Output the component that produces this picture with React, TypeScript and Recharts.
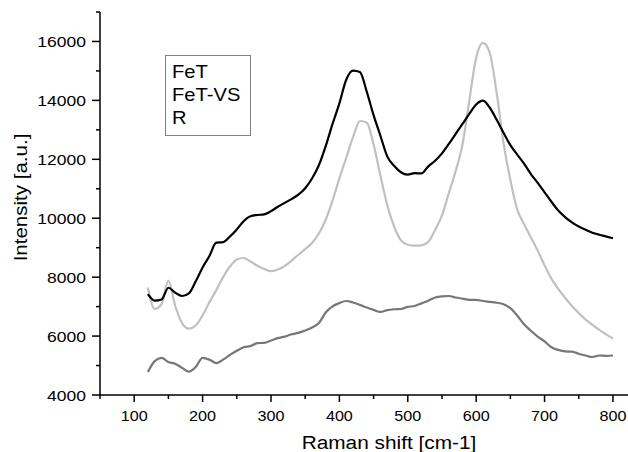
import React from 'react';
import { LineChart, Line, XAxis, YAxis, Legend } from 'recharts';

// Raman shift [cm-1]
const shift = [
  120, 130, 140, 150, 160, 170, 180, 190, 200, 210,
  220, 230, 240, 250, 260, 270, 280, 290, 300, 310,
  320, 330, 340, 350, 360, 370, 380, 390, 400, 410,
  420, 430, 440, 450, 460, 470, 480, 490, 500, 510,
  520, 530, 540, 550, 560, 570, 580, 590, 600, 610,
  620, 630, 640, 650, 660, 670, 680, 690, 700, 710,
  720, 730, 740, 750, 760, 770, 780, 790, 800
];

const fet = [
  7420, 7200, 7240, 7640, 7470, 7360, 7450, 7860, 8330, 8720,
  9170, 9190, 9380, 9620, 9900, 10070, 10110, 10130, 10240, 10390,
  10520, 10650, 10800, 11020, 11350, 11800, 12450, 13200, 13900, 14700,
  15010, 14960, 14300, 13500, 12800, 12100, 11780, 11560, 11480, 11530,
  11520, 11760, 11950, 12200, 12520, 12860, 13200, 13540, 13860, 13990,
  13750, 13340, 12900, 12480, 12160, 11850, 11500, 11200, 10880, 10560,
  10260, 10040, 9860, 9720, 9610, 9510, 9440, 9380, 9320
];

const fetVs = [
  7650, 6920, 7080, 7880, 7020, 6440, 6250, 6360, 6700, 7150,
  7560, 8000, 8360, 8600, 8650, 8530, 8390, 8280, 8200, 8260,
  8380, 8560, 8760, 8950, 9160, 9480, 9950, 10600, 11350, 12050,
  12750, 13300, 13250, 12500, 11450, 10450, 9720, 9250, 9100, 9070,
  9080, 9200, 9600, 10100, 10850, 11600, 12500, 14000, 15450, 15950,
  15600, 14250, 12550, 11300, 10300, 9800, 9350, 8900, 8400, 7950,
  7600, 7300, 7020, 6780, 6560, 6380, 6210, 6060, 5920
];

const rRef = [
  4780, 5150, 5260, 5120, 5060, 4920, 4790, 4950, 5260, 5200,
  5080, 5200, 5360, 5500, 5620, 5660, 5760, 5770, 5850, 5930,
  5980, 6060, 6110, 6190, 6290, 6440, 6800, 7010, 7120, 7190,
  7140, 7060, 6970, 6890, 6820, 6880, 6910, 6920, 6990, 7020,
  7110, 7200, 7310, 7350, 7360, 7310, 7270, 7230, 7230, 7190,
  7160, 7130, 7080, 6950, 6700, 6400, 6180, 5980, 5820, 5620,
  5530, 5480, 5470, 5400, 5340, 5290, 5340, 5330, 5340
];

const xTicks = [50, 100, 150, 200, 250, 300, 350, 400, 450, 500, 550, 600, 650, 700, 750, 800];
const yTicks = [4000, 5000, 6000, 7000, 8000, 9000, 10000, 11000, 12000, 13000, 14000, 15000, 16000, 17000];
const seriesNames = ['FeT', 'FeT-VS', 'R'];

const data = shift.map((s, i) => ({ shift: s, fet: fet[i], fetVs: fetVs[i], r: rRef[i] }));

const FONT = '"Liberation Sans", Arial, sans-serif';

const StretchText = ({ x, y, size, sx, anchor, angle, children }: any) => (
  <text
    transform={`translate(${x},${y}) rotate(${angle || 0}) scale(${sx},1)`}
    fontSize={size}
    fontFamily={FONT}
    textAnchor={anchor}
    fill="#000"
  >
    {children}
  </text>
);

const YTick = (props: any) => {
  const { x, y, payload } = props;
  const major = payload.value % 2000 === 0;
  return (
    <g>
      <line x1={x} x2={x - (major ? 8 : 4)} y1={y} y2={y} stroke="#000" strokeWidth={1.5} />
      {major && (
        <StretchText x={x - 14} y={y + 5.5} size={15.5} sx={1.13} anchor="end">
          {payload.value}
        </StretchText>
      )}
    </g>
  );
};

const XTick = (props: any) => {
  const { x, y, payload } = props;
  const major = payload.value % 100 === 0;
  return (
    <g>
      <line x1={x} x2={x} y1={y} y2={y + (major ? 7 : 4)} stroke="#000" strokeWidth={1.5} />
      {major && (
        <StretchText x={x} y={y + 26} size={15.4} sx={1.05} anchor="middle">
          {payload.value}
        </StretchText>
      )}
    </g>
  );
};

const LegendBox = () => (
  <svg width={87} height={82} style={{ display: 'block' }}>
    <rect x={0.5} y={0.5} width={85} height={80} fill="#fff" stroke="#808080" strokeWidth={1} />
    {seriesNames.map((name, i) => (
      <StretchText key={name} x={7} y={23 + i * 23} size={18} sx={1.12} anchor="start">
        {name}
      </StretchText>
    ))}
  </svg>
);

export default function App() {
  return (
    <div style={{ position: 'absolute', left: 0, top: 0, width: 628, height: 452, background: '#fff' }}>
      <LineChart width={628} height={452} data={data} margin={{ top: 12, right: 0, bottom: 0, left: 0 }}>
        <XAxis
          dataKey="shift"
          type="number"
          domain={[50, 822]}
          ticks={xTicks}
          interval={0}
          allowDataOverflow
          height={57}
          tickLine={false}
          tickSize={0}
          tickMargin={0}
          axisLine={{ stroke: '#000', strokeWidth: 1.5 }}
          tick={<XTick />}
          label={(p: any) => {
            const vb = p.viewBox;
            return (
              <StretchText x={vb.x + vb.width / 2 + 25} y={vb.y + 54} size={18.6} sx={1.12} anchor="middle">
                Raman shift [cm-1]
              </StretchText>
            );
          }}
        />
        <YAxis
          type="number"
          domain={[4000, 17000]}
          ticks={yTicks}
          interval={0}
          allowDataOverflow
          width={100}
          tickLine={false}
          tickSize={0}
          tickMargin={0}
          axisLine={{ stroke: '#000', strokeWidth: 1.5 }}
          tick={<YTick />}
          label={(p: any) => {
            const vb = p.viewBox;
            return (
              <StretchText x={vb.x + 27} y={vb.y + vb.height / 2 - 6} size={19} sx={1.08} anchor="middle" angle={-90}>
                Intensity [a.u.]
              </StretchText>
            );
          }}
        />
        <Legend
          layout="horizontal"
          verticalAlign="middle"
          align="center"
          wrapperStyle={{ position: 'absolute', left: 165, top: 55, width: 87, height: 82 }}
          content={() => <LegendBox />}
        />
        <Line type="monotone" dataKey="fetVs" name="FeT-VS" stroke="#c0c0c0" strokeWidth={2.2} dot={false} isAnimationActive={false} />
        <Line type="monotone" dataKey="r" name="R" stroke="#777777" strokeWidth={2.2} dot={false} isAnimationActive={false} />
        <Line type="monotone" dataKey="fet" name="FeT" stroke="#000000" strokeWidth={2.2} dot={false} isAnimationActive={false} />
      </LineChart>
    </div>
  );
}
